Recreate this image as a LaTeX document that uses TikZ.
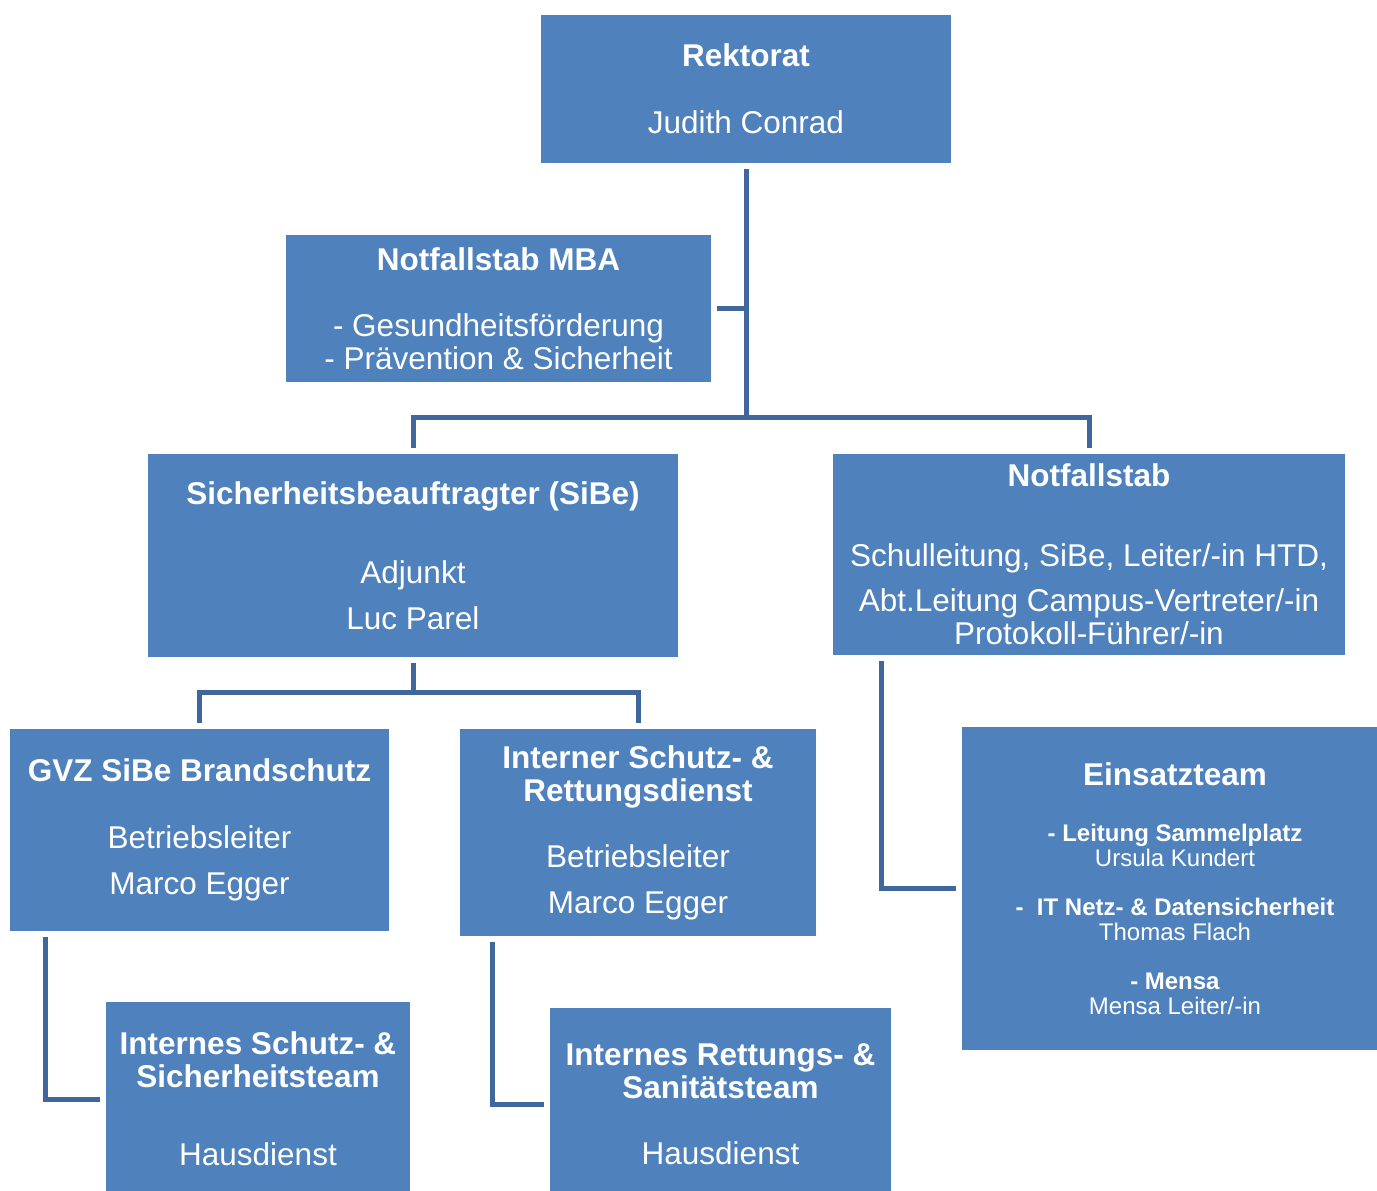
\documentclass[tikz,border=0pt]{standalone}
\usepackage{fontspec}
\setmainfont{Liberation Sans}
\usepackage{xcolor}
\usepackage{tikz}
\usetikzlibrary{positioning, calc}
\definecolor{boxblue}{HTML}{4F81BD}
\definecolor{linkblue}{HTML}{3F679B}

\begin{document}
\begin{tikzpicture}[
    x=1pt, y=-1pt,
    unit/.style={rectangle, fill=boxblue, text=white, inner sep=0pt, outer sep=6pt, align=center, font=\fontsize{31.5}{33}\selectfont},
    team/.style={unit, font=\fontsize{24}{24.5}\selectfont},
    link/.style={draw=linkblue, line width=5pt}
]
\useasboundingbox (0,0) rectangle (1377,1191);

% Top - Rektorat
\node[unit, minimum width=410, minimum height=148] (rektorat) at (746,89) {\textbf{Rektorat}\\[34pt]Judith Conrad};

% Staff unit beside the main line
\node[unit, minimum width=425, minimum height=147] (mba) at (498.5,308.5) {\textbf{Notfallstab MBA}\\[33pt]- Gesundheitsförderung\\- Prävention \& Sicherheit};

% Level 1 - SiBe and Notfallstab
\node[unit, minimum width=530, minimum height=203] (sibe) at (413,555.5) {\textbf{Sicherheitsbeauftragter (SiBe)}\\[46pt]Adjunkt\\[13pt]Luc Parel};
\node[unit, minimum width=512, minimum height=201] (notfall) at (1089,554.5) {\textbf{Notfallstab}\\[47pt]Schulleitung, SiBe, Leiter/-in HTD,\\[12pt]Abt.Leitung Campus-Vertreter/-in\\Protokoll-Führer/-in};

% Level 2 - under SiBe
\node[unit, minimum width=379, minimum height=202] (gvz) at (199.5,830) {\textbf{GVZ SiBe Brandschutz}\\[34pt]Betriebsleiter\\[13pt]Marco Egger};
\node[unit, minimum width=356, minimum height=207] (rettdienst) at (638,832.5) {\textbf{Interner Schutz- \&}\\\textbf{Rettungsdienst}\\[33pt]Betriebsleiter\\[13pt]Marco Egger};

% Level 2 - under Notfallstab (box runs past the right edge)
\node[team, minimum width=426, minimum height=323] (einsatz) at (1175,888.5) {{\fontsize{31.5}{33}\selectfont\bfseries Einsatzteam}\\[31.5pt]\textbf{- Leitung Sammelplatz}\\Ursula Kundert\\[25pt]\textbf{-\ \ IT Netz- \& Datensicherheit}\\Thomas Flach\\[25pt]\textbf{- Mensa}\\Mensa Leiter/-in};

% Level 3 - teams (boxes run past the bottom edge)
\node[unit, minimum width=304, minimum height=194] (schutzteam) at (258,1099) {\textbf{Internes Schutz- \&}\\\textbf{Sicherheitsteam}\\[45pt]Hausdienst};
\node[unit, minimum width=341, minimum height=192] (santeam) at (720.5,1104) {\textbf{Internes Rettungs- \&}\\\textbf{Sanitätsteam}\\[33pt]Hausdienst};

% Lines from Rektorat
\draw[link] (rektorat.south) -- ++(0,248) -| (sibe.north);
\draw[link] (rektorat.south) -- ++(0,248) -| (notfall.north);
\draw[link] (mba.east) -- (mba.east -| rektorat.south);

% Lines from SiBe
\draw[link] (sibe.south) -- ++(0,29) -| (gvz.north);
\draw[link] (sibe.south) -- ++(0,29) -| (rettdienst.north);

% Side lines down to the teams
\draw[link] ([xshift=54pt]notfall.south west) |- (einsatz.west);
\draw[link] ([xshift=41pt]gvz.south west) |- (schutzteam.west);
\draw[link] ([xshift=38pt]rettdienst.south west) |- (santeam.west);
\end{tikzpicture}
\end{document}
